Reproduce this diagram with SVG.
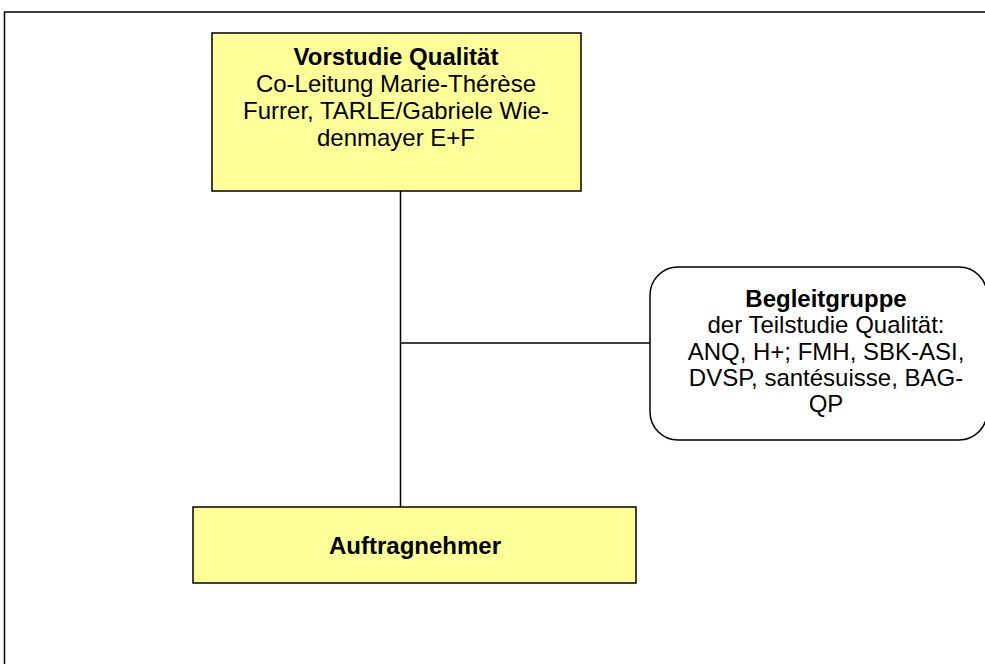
<svg xmlns="http://www.w3.org/2000/svg" width="985" height="664" viewBox="0 0 985 664">
<style>
.box{fill:#FFFF99;stroke:#000;stroke-width:1.5}
.rbox{fill:#fff;stroke:#000;stroke-width:1.5}
.t{font-family:"Liberation Sans",Arial,sans-serif;font-size:24px;fill:#000;text-anchor:middle}
.b{font-weight:bold}
.c{stroke:#000;stroke-width:1.5;fill:none}
</style>
<rect x="0" y="0" width="985" height="664" fill="#fff"/>
<rect x="4.5" y="12" width="1000" height="700" fill="none" stroke="#000" stroke-width="1.5"/>
<g id="connectors">
<line class="c" x1="400.5" y1="191" x2="400.5" y2="507"/>
<line class="c" x1="400.5" y1="343" x2="650" y2="343"/>
</g>
<g id="vorstudie">
<rect class="box" x="212" y="33" width="369" height="158"/>
<text class="t b" x="396" y="65">Vorstudie Qualität</text>
<text class="t" x="396" y="92">Co-Leitung Marie-Thérèse</text>
<text class="t" x="396" y="119">Furrer, TARLE/Gabriele Wie-</text>
<text class="t" x="396" y="146">denmayer E+F</text>
</g>
<g id="begleitgruppe">
<rect class="rbox" x="650" y="267" width="337" height="173" rx="28" ry="28"/>
<text class="t b" x="826" y="307">Begleitgruppe</text>
<text class="t" x="826" y="333">der Teilstudie Qualität:</text>
<text class="t" x="826" y="360">ANQ, H+; FMH, SBK-ASI,</text>
<text class="t" x="826" y="386">DVSP, santésuisse, BAG-</text>
<text class="t" x="826" y="412">QP</text>
</g>
<g id="auftragnehmer">
<rect class="box" x="193" y="507" width="443" height="76"/>
<text class="t b" x="415" y="554">Auftragnehmer</text>
</g>
</svg>
